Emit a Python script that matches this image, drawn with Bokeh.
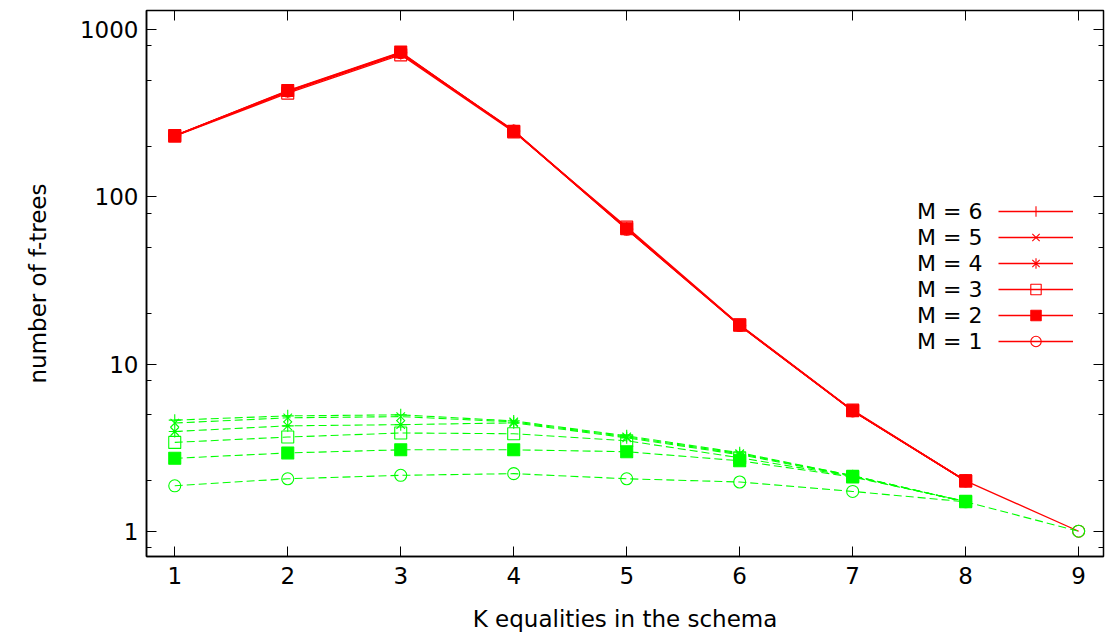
from bokeh.plotting import figure
from bokeh.models import (FixedTicker, LinearAxis, LogAxis, Range1d, Legend,
                          LegendItem, NumeralTickFormatter, CustomLabelingPolicy)
from bokeh.embed import file_html
from bokeh.resources import INLINE

# ---------------- data ----------------
K = [1, 2, 3, 4, 5, 6, 7, 8, 9]
m_labels = ["M = 6", "M = 5", "M = 4", "M = 3", "M = 2", "M = 1"]
markers = ["cross", "x", "asterisk", "square", "square", "circle"]
filled = [False, False, False, False, True, False]

red_m6 = [232, 427, 722, 248, 64.0, 17.0, 5.25, 2.0]
red_m5 = [232, 425, 720, 249, 64.5, 17.0, 5.25, 2.0]
red_m4 = [232, 428, 725, 250, 65.0, 17.1, 5.26, 2.0]
red_m3 = [231, 418, 708, 245, 66.0, 17.2, 5.30, 2.0]
red_m2 = [233, 433, 736, 247, 64.5, 17.1, 5.26, 2.0]
red_m1 = [233, 430, 730, 248, 64.0, 17.0, 5.25, 2.0, 1.0]

green_m6 = [4.62, 4.90, 4.97, 4.57, 3.72, 2.95, 2.15, 1.50]
green_m5 = [4.44, 4.77, 4.85, 4.51, 3.67, 2.91, 2.15, 1.50]
green_m4 = [3.95, 4.27, 4.34, 4.45, 3.62, 2.87, 2.14, 1.50]
green_m3 = [3.40, 3.66, 3.87, 3.83, 3.48, 2.75, 2.13, 1.50]
green_m2 = [2.73, 2.94, 3.07, 3.07, 2.99, 2.64, 2.11, 1.51]
green_m1 = [1.87, 2.06, 2.16, 2.21, 2.06, 1.97, 1.73, 1.50, 1.0]

red_series = [red_m6, red_m5, red_m4, red_m3, red_m2, red_m1]
green_series = [green_m6, green_m5, green_m4, green_m3, green_m2, green_m1]

y_major = [1, 10, 100, 1000]
y_minor = [0.8, 2, 5, 8, 20, 50, 80, 200, 500, 800]

FONT = "DejaVu Sans"
RED = "#ff0000"
GREEN = "#00ff00"

# ---------------- figure ----------------
p = figure(width=1108, height=634, y_axis_type="log",
           x_range=Range1d(0.75, 9.22), y_range=Range1d(0.706, 1304),
           output_backend="svg", toolbar_location=None,
           min_border_left=146, min_border_right=5, min_border_top=10,
           min_border_bottom=77)
p.grid.visible = False
p.outline_line_color = "black"
p.outline_line_width = 1.5
p.background_fill_color = "white"
p.border_fill_color = "white"

xa = p.xaxis[0]
ya = p.yaxis[0]
xa.ticker = FixedTicker(ticks=K)
ya.ticker = FixedTicker(ticks=y_major, minor_ticks=y_minor)
ya.formatter = NumeralTickFormatter(format="0")
for ax in (xa, ya):
    ax.major_tick_in = 10
    ax.major_tick_out = 0
    ax.minor_tick_in = 5
    ax.minor_tick_out = 0
    ax.major_tick_line_color = "black"
    ax.minor_tick_line_color = "black"
    ax.axis_line_color = "black"
    ax.axis_line_width = 1.5
    ax.major_label_text_font = FONT
    ax.major_label_text_font_size = "23px"
    ax.major_label_text_color = "black"
    ax.axis_label_text_font = FONT
    ax.axis_label_text_font_size = "23px"
    ax.axis_label_text_font_style = "normal"
    ax.axis_label_text_color = "black"
xa.axis_label = "K equalities in the schema"
ya.axis_label = "number of f-trees"
xa.major_label_standoff = 10
xa.axis_label_standoff = 19
ya.major_label_standoff = 8
ya.axis_label_standoff = 26

# mirrored ticks on top and right (no labels drawn)
no_labels = CustomLabelingPolicy(code="return []")
top = LinearAxis(ticker=FixedTicker(ticks=K))
right = LogAxis(ticker=FixedTicker(ticks=y_major, minor_ticks=y_minor))
for ax in (top, right):
    ax.major_tick_in = 10
    ax.major_tick_out = 0
    ax.minor_tick_in = 5
    ax.minor_tick_out = 0
    ax.major_tick_line_color = "black"
    ax.minor_tick_line_color = "black"
    ax.axis_line_color = None
    ax.major_label_text_font_size = "1px"
    ax.major_label_standoff = 0
    ax.major_label_policy = no_labels
p.add_layout(top, "above")
p.add_layout(right, "right")

# ---------------- series ----------------
legend_samples = []
for i, ys in enumerate(red_series):
    xs = K[:len(ys)]
    lr = p.line(xs, ys, line_color=RED, line_width=1.3)
    sr = p.scatter(xs, ys, marker=markers[i], size=12, line_color=RED,
                   line_width=1.1,
                   fill_color=RED if filled[i] else None)
    legend_samples.append([lr, sr])

for i, ys in enumerate(green_series):
    xs = K[:len(ys)]
    p.line(xs, ys, line_color=GREEN, line_width=1.1, line_dash="8 4")
    p.scatter(xs, ys, marker=markers[i], size=12, line_color=GREEN,
              line_width=1.1,
              fill_color=GREEN if filled[i] else None)

# ---------------- legend (text left, sample right, like gnuplot) ----------------
dummy = p.line(x=[0], y=[1], line_alpha=0)
leg_text = Legend(items=[LegendItem(label=lab, renderers=[dummy]) for lab in m_labels],
                  location=(770, 202), glyph_width=1, glyph_height=26,
                  label_height=26, label_standoff=0, padding=0, margin=0,
                  spacing=0, border_line_color=None, background_fill_alpha=0,
                  label_text_font=FONT, label_text_font_size="22px",
                  label_text_color="black")
leg_glyph = Legend(items=[LegendItem(label="", renderers=rs) for rs in legend_samples],
                   location=(852, 202), glyph_width=75, glyph_height=26,
                   label_height=26, label_width=1, label_standoff=0, padding=0,
                   margin=0, spacing=0, border_line_color=None,
                   background_fill_alpha=0, label_text_font_size="10px")
p.add_layout(leg_text)
p.add_layout(leg_glyph)

open("out.html", "w").write(file_html(p, INLINE))
